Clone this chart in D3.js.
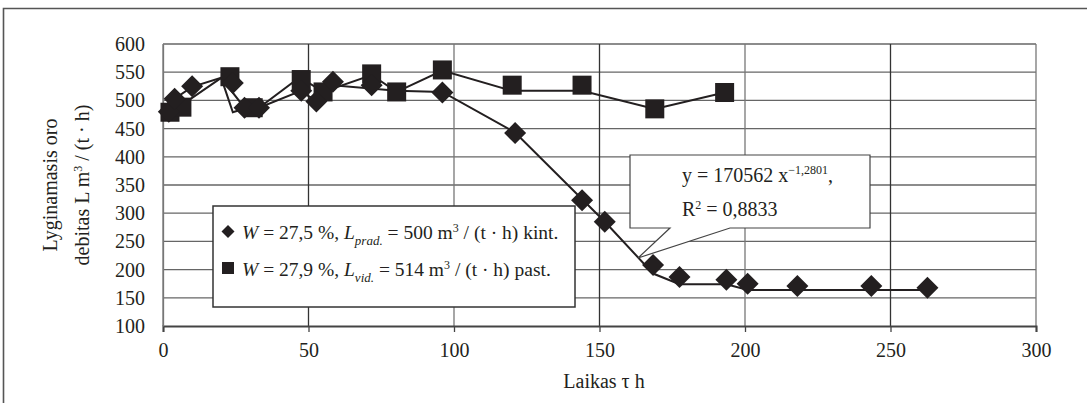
<!DOCTYPE html>
<html>
<head>
<meta charset="utf-8">
<script src="https://cdn.jsdelivr.net/npm/d3@7"></script>
<style>
  body { margin: 0; background: #fff; }
  svg { display: block; font-family: "Liberation Serif", "DejaVu Serif", serif; }
</style>
</head>
<body>
<svg class="chart"></svg>
<script>
// kint. series (diamonds) - markers and the drawn line
var kintX = [2, 4, 10, 24, 28, 33, 47.5, 52.7, 58.4, 71.7, 96, 121, 144, 151.8, 168.4, 177.5, 193.6, 200.9, 218, 243.4, 262.7];
var kintY = [480, 503, 525, 531, 487, 487, 517, 498, 533, 527, 514, 442, 323, 285, 208, 187, 182, 175, 171, 171, 168];
var kintLineX = [2, 4, 10, 20, 24, 29, 33, 47, 52.7, 58.4, 80.3, 96, 121, 145, 152, 168.4, 177.5, 193.6, 201, 264];
var kintLineY = [480, 503, 524, 540, 479, 487, 487, 516, 500, 527, 517, 515, 443, 320, 284, 193, 174, 174, 164, 164];

// past. series (squares)
var pastX = [2.4, 6.5, 23, 31, 47.5, 55, 71.7, 80.3, 96, 120, 144, 169, 193];
var pastY = [479, 488, 542, 487, 537, 515, 547, 515, 554, 527, 527, 485, 514];
var pastLineX = [2.4, 6.5, 20, 28, 33, 47, 55, 71.7, 80.3, 96, 120, 144, 169, 193];
var pastLineY = [479, 492, 540, 487, 487, 541, 515, 545, 515, 553, 517, 517, 485, 514];

var xTicks = [0, 50, 100, 150, 200, 250, 300];
var yTicks = [100, 150, 200, 250, 300, 350, 400, 450, 500, 550, 600];

var width = 1087,
    height = 403;

var svg = d3.select(".chart")
    .attr("width", width)
    .attr("height", height);

var x = d3.scaleLinear().domain([0, 300]).range([163, 1036]);
var y = d3.scaleLinear().domain([100, 600]).range([326, 44]);

// outer frame (top + left edge)
svg.append("path")
    .attr("d", "M3.5,403 L3.5,8.5 L1087,8.5")
    .attr("fill", "none")
    .attr("stroke", "#555")
    .attr("stroke-width", 1.6);

// grid
svg.append("g").selectAll("line").data(yTicks.slice(1)).enter().append("line")
    .attr("x1", x(0)).attr("x2", x(300))
    .attr("y1", function(d) { return y(d); })
    .attr("y2", function(d) { return y(d); })
    .attr("stroke", "#666")
    .attr("stroke-width", 1.3);

svg.append("g").selectAll("line").data(xTicks).enter().append("line")
    .attr("x1", function(d) { return x(d); })
    .attr("x2", function(d) { return x(d); })
    .attr("y1", y(600)).attr("y2", y(100))
    .attr("stroke", function(d, i) { return i % 2 ? "#333" : "#777"; })
    .attr("stroke-width", 1.3);

// x axis
var xAxis = d3.axisBottom(x).tickValues(xTicks).tickSize(6).tickPadding(11).tickFormat(d3.format("d"));
var gx = svg.append("g").attr("transform", "translate(0," + y(100) + ")").call(xAxis);
gx.select(".domain").attr("stroke", "#444").attr("stroke-width", 2);
gx.selectAll(".tick line").attr("stroke", "#444").attr("stroke-width", 1.3);
gx.selectAll(".tick text").attr("font-size", 20).attr("font-family", "Liberation Serif").attr("fill", "#231f20");

// y axis
var yAxis = d3.axisLeft(y).tickValues(yTicks).tickSize(0).tickPadding(18).tickFormat(d3.format("d"));
var gy = svg.append("g").attr("transform", "translate(" + x(0) + ",0)").call(yAxis);
gy.select(".domain").attr("stroke", "#777").attr("stroke-width", 1.3);
gy.selectAll(".tick text").attr("font-size", 20).attr("font-family", "Liberation Serif").attr("fill", "#231f20");

// axis titles
svg.append("text")
    .attr("x", 604).attr("y", 388)
    .attr("text-anchor", "middle")
    .attr("font-size", 20)
    .attr("fill", "#231f20")
    .text("Laikas τ h");

var yTitle = svg.append("text")
    .attr("transform", "translate(57," + 185 + ") rotate(-90)")
    .attr("text-anchor", "middle")
    .attr("font-size", 20)
    .attr("fill", "#231f20");
yTitle.append("tspan").attr("x", 0).attr("y", 0).text("Lyginamasis oro");
var l2 = yTitle.append("tspan").attr("x", 0).attr("y", 32).text("debitas L m");
l2.append("tspan").attr("dy", -7).attr("font-size", 12).text("3");
l2.append("tspan").attr("dy", 7).text(" / (t · h)");

// lines
var lineGen = d3.line()
    .x(function(d) { return x(d[0]); })
    .y(function(d) { return y(d[1]); });

var pastLine = pastLineX.map(function(d, i) { return [d, pastLineY[i]]; });
var kintLine = kintLineX.map(function(d, i) { return [d, kintLineY[i]]; });

svg.append("path").datum(pastLine)
    .attr("d", lineGen)
    .attr("fill", "none").attr("stroke", "#231f20").attr("stroke-width", 2);
svg.append("path").datum(kintLine)
    .attr("d", lineGen)
    .attr("fill", "none").attr("stroke", "#231f20").attr("stroke-width", 2);

// markers
var sq = 19;
svg.append("g").selectAll("rect").data(pastX).enter().append("rect")
    .attr("x", function(d) { return x(d) - sq / 2; })
    .attr("y", function(d, i) { return y(pastY[i]) - sq / 2; })
    .attr("width", sq).attr("height", sq)
    .attr("fill", "#231f20");

var dm = 11;
svg.append("g").selectAll("path").data(kintX).enter().append("path")
    .attr("d", function(d, i) {
        var cx = x(d), cy = y(kintY[i]);
        return "M" + cx + "," + (cy - dm) + "L" + (cx + dm) + "," + cy + "L" + cx + "," + (cy + dm) + "L" + (cx - dm) + "," + cy + "Z";
    })
    .attr("fill", "#231f20");

// legend
var legend = svg.append("g");
legend.append("rect")
    .attr("x", 213).attr("y", 206)
    .attr("width", 362).attr("height", 101)
    .attr("fill", "#fff")
    .attr("stroke", "#333").attr("stroke-width", 1.5);

legend.append("path")
    .attr("d", "M228,225 L234.5,231.5 L228,238 L221.5,231.5 Z")
    .attr("fill", "#231f20");
legend.append("rect")
    .attr("x", 222).attr("y", 262).attr("width", 12).attr("height", 12)
    .attr("fill", "#231f20");

function legendRow(yy, w, sub, val) {
    var t = legend.append("text")
        .attr("x", 242).attr("y", yy)
        .attr("font-size", 19.5)
        .attr("fill", "#231f20");
    t.append("tspan").attr("font-style", "italic").text("W");
    t.append("tspan").text(" = " + w + " %, ");
    t.append("tspan").attr("font-style", "italic").text("L");
    t.append("tspan").attr("font-style", "italic").attr("font-size", 13).attr("dy", 6).text(sub);
    t.append("tspan").attr("dy", -6).text(" = " + val + " m");
    t.append("tspan").attr("font-size", 12).attr("dy", -7).text("3");
    t.append("tspan").attr("dy", 7).text(" / (t · h) " + (sub == "prad." ? "kint." : "past."));
}
legendRow(239, "27,5", "prad.", "500");
legendRow(276, "27,9", "vid.", "514");

// trend callout
var call = svg.append("g");
call.append("path")
    .attr("d", "M630,155 L870,155 L870,228 L730,228 L638,258 L670,228 L630,228 Z")
    .attr("fill", "#fff")
    .attr("stroke", "#444").attr("stroke-width", 1.2);
var eq = call.append("text")
    .attr("x", 682).attr("y", 182)
    .attr("font-size", 20)
    .attr("fill", "#231f20");
eq.append("tspan").text("y = 170562 x");
eq.append("tspan").attr("font-size", 12).attr("dy", -8).text("−1,2801");
eq.append("tspan").attr("dy", 8).text(",");
var r2 = call.append("text")
    .attr("x", 682).attr("y", 216)
    .attr("font-size", 20)
    .attr("fill", "#231f20");
r2.append("tspan").text("R");
r2.append("tspan").attr("font-size", 12).attr("dy", -7).text("2");
r2.append("tspan").attr("dy", 7).text(" = 0,8833");
</script>
</body>
</html>
